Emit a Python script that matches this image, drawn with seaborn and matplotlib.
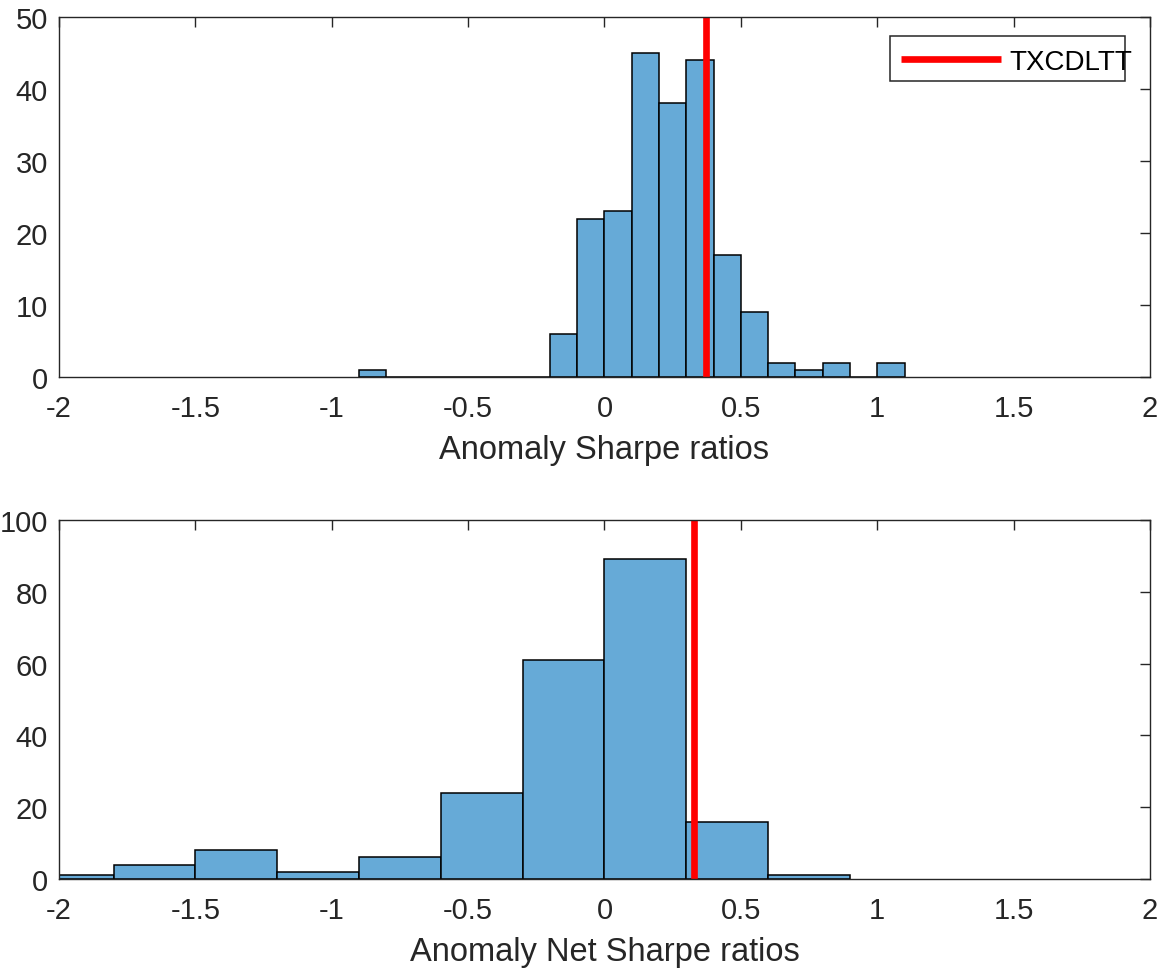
import numpy as np
import matplotlib
matplotlib.use("Agg")
import matplotlib.pyplot as plt
from matplotlib.patches import Rectangle
import seaborn as sns

# Histogram counts
sharpe_edges = np.round(np.arange(-0.9, 1.11, 0.1), 2)
sharpe_counts = [1, 0, 0, 0, 0, 0, 0, 6, 22, 23, 45, 38, 44, 17, 9, 2, 1, 2, 0, 2]

net_edges = np.round(np.arange(-2.1, 0.91, 0.3), 2)
net_counts = [1, 4, 8, 2, 6, 24, 61, 89, 16, 1]

txcdltt_sharpe = 0.372
txcdltt_net = 0.328

xtick_vals = [-2, -1.5, -1, -0.5, 0, 0.5, 1, 1.5, 2]
xtick_labels = ["-2", "-1.5", "-1", "-0.5", "0", "0.5", "1", "1.5", "2"]

sns.set_style("white")
plt.rcParams["font.family"] = ["Liberation Sans", "DejaVu Sans"]
bar_color = "#66AAD7"
ink = "#262626"

fig = plt.figure(figsize=(11.68, 9.70), dpi=100)
ax1 = fig.add_axes([0.0505, 0.6103, 0.9341, 0.3711])
ax2 = fig.add_axes([0.0505, 0.0928, 0.9341, 0.3701])


def draw(ax, edges, counts, line_x, xlabel, ymax, yticks):
    centers = (edges[:-1] + edges[1:]) / 2
    sns.histplot(x=list(centers), weights=list(counts), bins=list(edges), ax=ax,
                 color=bar_color, alpha=1, edgecolor="black", linewidth=1.1)
    ax.axvline(line_x, color="red", linewidth=4.8, label="TXCDLTT",
               solid_capstyle="butt")
    ax.set_xlim(-2, 2)
    ax.set_ylim(0, ymax)
    ax.set_xticks(xtick_vals)
    ax.set_xticklabels(xtick_labels)
    ax.set_yticks(yticks)
    ax.set_xlabel(xlabel, fontsize=23.5, color=ink, labelpad=9)
    ax.set_ylabel("")
    ax.tick_params(direction="in", top=True, right=True, length=7,
                   labelsize=21, colors=ink, width=1)
    ax.tick_params(axis="x", pad=12)
    ax.tick_params(axis="y", pad=8)
    for s in ax.spines.values():
        s.set_visible(True)
        s.set_color(ink)
        s.set_linewidth(1)


draw(ax1, sharpe_edges, sharpe_counts, txcdltt_sharpe,
     "Anomaly Sharpe ratios", 50, [0, 10, 20, 30, 40, 50])
draw(ax2, net_edges, net_counts, txcdltt_net,
     "Anomaly Net Sharpe ratios", 100, [0, 20, 40, 60, 80, 100])

# legend like MATLAB's: fixed box, text spills a little over the right edge
box = Rectangle((890 / 1168, 1 - 82 / 970), 235 / 1168, 45 / 970,
                transform=fig.transFigure, facecolor="white",
                edgecolor=ink, linewidth=1.1, zorder=8, clip_on=False)
ax1.add_patch(box)
leg = ax1.legend(loc="center left", bbox_to_anchor=(901 / 1168, 1 - 63 / 970),
                 bbox_transform=fig.transFigure, fontsize=20, frameon=False,
                 handlelength=3.6, borderpad=0, borderaxespad=0,
                 handletextpad=0.3)
leg.set_zorder(10)
for t in leg.get_texts():
    t.set_color("black")

plt.savefig("out.png", dpi=100)
plt.close()
